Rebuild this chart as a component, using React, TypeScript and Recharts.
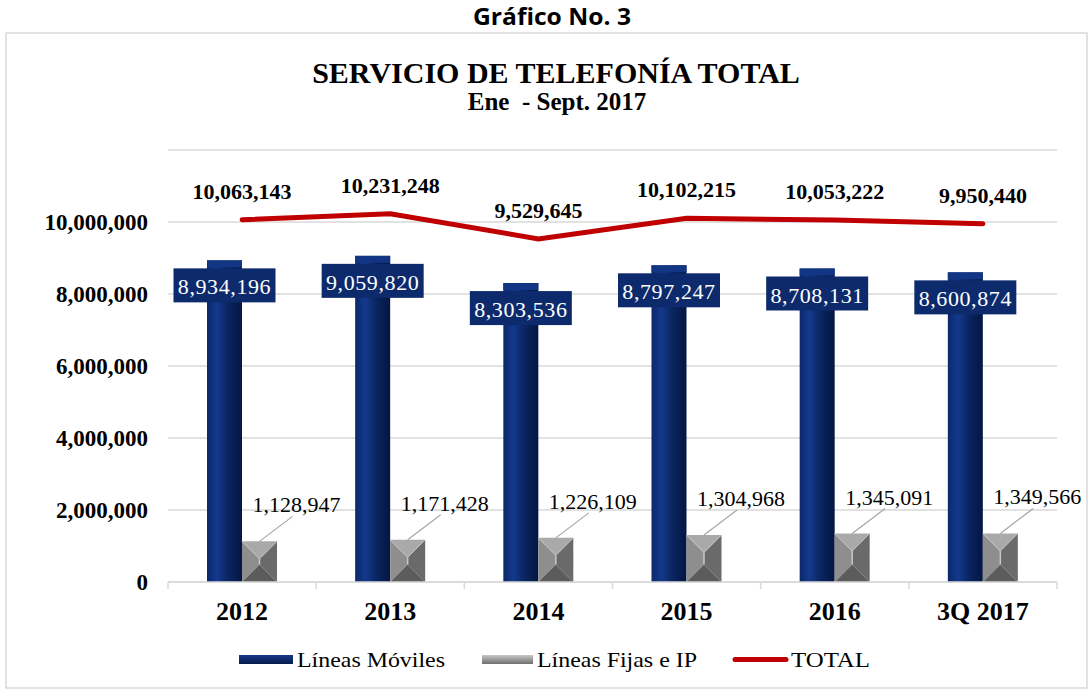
import { Bar, CartesianGrid, ComposedChart, LabelList, Line, XAxis, YAxis } from 'recharts';

const categories = ['2012', '2013', '2014', '2015', '2016', '3Q 2017'];
const moviles = [8934196, 9059820, 8303536, 8797247, 8708131, 8600874];
const fijas = [1128947, 1171428, 1226109, 1304968, 1345091, 1349566];
const totals = [10063143, 10231248, 9529645, 10102215, 10053222, 9950440];
const yTicks = [0, 2000000, 4000000, 6000000, 8000000, 10000000];

const data = categories.map((cat, i) => ({
  cat,
  moviles: moviles[i],
  fijas: fijas[i],
  total: totals[i],
}));

const W = 1090;
const H = 692;
const M = { top: 150, right: 33, bottom: 70, left: 0 };
const Y_AXIS_W = 168;
const BAND = (W - Y_AXIS_W - M.right) / categories.length;
const SERIF = "'Liberation Serif', 'Times New Roman', serif";
const GRID = '#d9d9d9';

const fmt = (v: number) => Number(v).toLocaleString('en-US');

function MovilBar(p: any) {
  const { x, y, width, height } = p;
  if (!height) return null;
  return (
    <g>
      <rect x={x} y={y} width={width} height={height} fill='url(#gMovil)' />
      <rect x={x} y={y} width={width} height={7} fill='#123584' />
    </g>
  );
}

function FijaBar(p: any) {
  const { x, y, width: w, height: h } = p;
  if (!h) return null;
  const d = Math.min(w, h) / 2;
  const x2 = x + w;
  const y2 = y + h;
  return (
    <g>
      <polygon points={`${x},${y} ${x2},${y} ${x2 - d},${y + d} ${x + d},${y + d}`} fill='#a9a9a9' />
      <polygon points={`${x},${y} ${x + d},${y + d} ${x + d},${y2 - d} ${x},${y2}`} fill='#8e8e8e' />
      <polygon points={`${x2},${y} ${x2 - d},${y + d} ${x2 - d},${y2 - d} ${x2},${y2}`} fill='#6a6a6a' />
      <polygon points={`${x},${y2} ${x2},${y2} ${x2 - d},${y2 - d} ${x + d},${y2 - d}`} fill='#5c5c5c' />
      <line x1={x} y1={y} x2={x + d} y2={y + d} stroke='#c4c4c4' strokeWidth={1} />
      <line x1={x2} y1={y} x2={x2 - d} y2={y + d} stroke='#c4c4c4' strokeWidth={1} />
      <line x1={x + d} y1={y + d} x2={x + d} y2={y2 - d} stroke='#c8c8c8' strokeWidth={1.5} />
    </g>
  );
}

function MovilLabel(p: any) {
  const { x, y, width, value } = p;
  const cx = x + width / 2;
  return (
    <g>
      <rect x={cx - 51} y={y + 8} width={102} height={34} fill='#0d2b6c' />
      <text x={cx} y={y + 34} textAnchor='middle' fill='#fff' fontSize={22} fontFamily={SERIF} letterSpacing={0.6}>
        {fmt(value)}
      </text>
    </g>
  );
}

function FijaLabel(p: any) {
  const { x, y, width, value } = p;
  const cx = x + width / 2;
  return (
    <g>
      <line x1={cx} y1={y} x2={cx + 33} y2={y - 25} stroke='#a6a6a6' strokeWidth={1.2} />
      <text x={cx + 37} y={y - 29} textAnchor='middle' fill='#000' fontSize={22} fontFamily={SERIF}>
        {fmt(value)}
      </text>
    </g>
  );
}

function TotalLabel(p: any) {
  const { x, y, value } = p;
  return (
    <text x={x} y={y - 21} textAnchor='middle' fill='#000' fontSize={22} fontWeight='bold' fontFamily={SERIF}>
      {fmt(value)}
    </text>
  );
}

function XTick(p: any) {
  const { x, y, payload, index } = p;
  const half = BAND / 2;
  const last = index === categories.length - 1;
  return (
    <g>
      <line x1={x - half} y1={y} x2={x - half} y2={y + 7} stroke={GRID} strokeWidth={1.5} />
      {last && <line x1={x + half} y1={y} x2={x + half} y2={y + 7} stroke={GRID} strokeWidth={1.5} />}
      <text x={x} y={y + 38} textAnchor='middle' fill='#000' fontSize={26} fontWeight='bold' fontFamily={SERIF}>
        {payload.value}
      </text>
    </g>
  );
}

function Overlay() {
  return (
    <svg width={W} height={H} style={{ position: 'absolute', left: 0, top: 0, pointerEvents: 'none' }}>
      <defs>
        <linearGradient id='lgMovil' x1='0' y1='0' x2='0' y2='1'>
          <stop offset='0%' stopColor='#17398a' />
          <stop offset='100%' stopColor='#061a4c' />
        </linearGradient>
        <linearGradient id='lgFija' x1='0' y1='0' x2='0' y2='1'>
          <stop offset='0%' stopColor='#c8c8c8' />
          <stop offset='100%' stopColor='#6e6e6e' />
        </linearGradient>
      </defs>
      <rect x={6} y={33} width={1081} height={655} fill='none' stroke='#d9d9d9' strokeWidth={1.5} />
      <text
        x={552}
        y={25}
        textAnchor='middle'
        fontSize={23}
        fontWeight='bold'
        fontFamily="'Open Sans', 'Noto Sans', sans-serif"
        textLength={158}
        lengthAdjust='spacingAndGlyphs'
      >
        Gráfico No. 3
      </text>
      <text x={556} y={83} textAnchor='middle' fontSize={30} fontWeight='bold' fontFamily={SERIF}>
        SERVICIO DE TELEFONÍA TOTAL
      </text>
      <text
        x={557}
        y={110}
        textAnchor='middle'
        fontSize={25}
        fontWeight='bold'
        fontFamily={SERIF}
        style={{ whiteSpace: 'pre' }}
      >
        {'Ene  - Sept. 2017'}
      </text>

      <rect x={239} y={655} width={54} height={9} fill='url(#lgMovil)' />
      <text x={297} y={667} fontSize={22} fontFamily={SERIF} textLength={148} lengthAdjust='spacingAndGlyphs'>
        Líneas Móviles
      </text>
      <rect x={482} y={655} width={51} height={9} fill='url(#lgFija)' />
      <text x={537} y={667} fontSize={22} fontFamily={SERIF} textLength={160} lengthAdjust='spacingAndGlyphs'>
        Líneas Fijas e IP
      </text>
      <line x1={735} y1={659.5} x2={786} y2={659.5} stroke='#c00000' strokeWidth={5} strokeLinecap='round' />
      <text x={791} y={667} fontSize={22} fontFamily={SERIF} textLength={79} lengthAdjust='spacingAndGlyphs'>
        TOTAL
      </text>
    </svg>
  );
}

export default function App() {
  return (
    <div style={{ position: 'absolute', left: 0, top: 0, width: W, height: H, background: '#fff' }}>
      <ComposedChart width={W} height={H} data={data} margin={M} barGap={0}>
        <defs>
          <linearGradient id='gMovil' x1='0' y1='0' x2='1' y2='0'>
            <stop offset='0%' stopColor='#0b2868' />
            <stop offset='28%' stopColor='#143a8e' />
            <stop offset='60%' stopColor='#0a2560' />
            <stop offset='100%' stopColor='#041642' />
          </linearGradient>
        </defs>
        <CartesianGrid horizontal vertical={false} stroke={GRID} strokeWidth={1.5} />
        <XAxis
          dataKey='cat'
          axisLine={{ stroke: GRID, strokeWidth: 1.5 }}
          tickLine={false}
          tickSize={0}
          tickMargin={0}
          height={40}
          interval={0}
          tick={<XTick />}
        />
        <YAxis
          domain={[0, 12000000]}
          ticks={yTicks}
          tickFormatter={fmt}
          axisLine={false}
          tickLine={false}
          tickSize={0}
          tickMargin={20}
          width={Y_AXIS_W}
          interval={0}
          tick={{ fill: '#000', fontSize: 23, fontWeight: 'bold', fontFamily: SERIF }}
        />
        <Bar dataKey='moviles' barSize={35} shape={<MovilBar />} isAnimationActive={false}>
          <LabelList dataKey='moviles' content={<MovilLabel />} />
        </Bar>
        <Bar dataKey='fijas' barSize={35} shape={<FijaBar />} isAnimationActive={false}>
          <LabelList dataKey='fijas' content={<FijaLabel />} />
        </Bar>
        <Line
          dataKey='total'
          type='linear'
          stroke='#c00000'
          strokeWidth={5}
          strokeLinecap='round'
          dot={false}
          activeDot={false}
          isAnimationActive={false}
        >
          <LabelList dataKey='total' content={<TotalLabel />} />
        </Line>
      </ComposedChart>
      <Overlay />
    </div>
  );
}
